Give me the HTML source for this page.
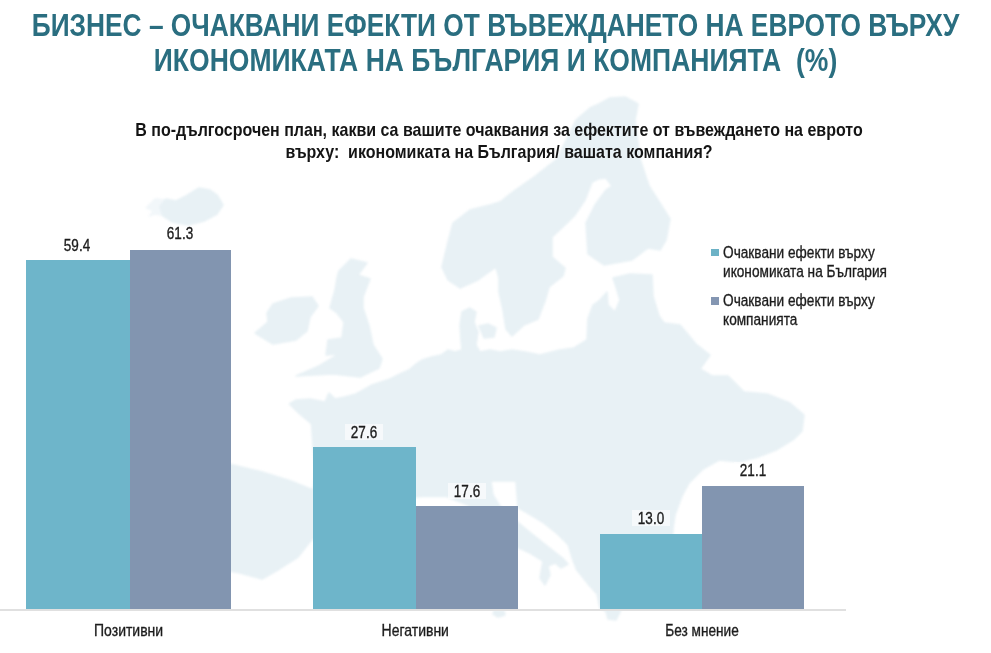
<!DOCTYPE html>
<html lang="bg">
<head>
<meta charset="utf-8">
<title>Бизнес – очаквани ефекти от въвеждането на еврото</title>
<style>
  html, body { margin: 0; padding: 0; width: 991px; height: 653px; overflow: hidden; background: #ffffff; }
  #stage {
    width: 991px; height: 653px; overflow: hidden; position: relative;
    background: #ffffff;
    font-family: "Liberation Sans", sans-serif;
    color: #1a1a1a;
  }
  .abs { position: absolute; white-space: nowrap; }
  #map { position: absolute; left: 0; top: 0; width: 991px; height: 653px; filter: blur(1px); }
  .title {
    left: -300px; width: 1591px; text-align: center;
    font-weight: bold; font-size: 30px; line-height: 36px;
    color: #2a6e80;
    transform: scale(0.877, 1.065); transform-origin: 50% 28.4px;
  }
  .sub {
    left: 0; width: 998px; text-align: center;
    font-weight: bold; font-size: 16px; line-height: 22px; color: #141414;
    white-space: pre;
    transform: scale(1, 1.12); transform-origin: 50% 16.5px;
  }
  .bar { position: absolute; }
  .teal { background: #6eb5ca; }
  .slate { background: #8295b0; }
  .vbox { position: absolute; width: 38px; height: 16px; background: #ffffff; opacity: 0.6; }
  .val {
    font-size: 14px; line-height: 16px; width: 60px; text-align: center; color: #1c1c1c; -webkit-text-stroke: 0.3px #1c1c1c;
    transform: scale(0.965, 1.17); transform-origin: 50% 12.85px;
  }
  .cat {
    font-size: 14px; line-height: 16px; width: 120px; text-align: center; color: #1c1c1c; -webkit-text-stroke: 0.3px #1c1c1c;
    transform: scale(1.0, 1.15); transform-origin: 50% 12.85px;
  }
  .leg {
    font-size: 14px; line-height: 19px; color: #1c1c1c; -webkit-text-stroke: 0.3px #1c1c1c;
    transform: scale(0.976, 1.12); transform-origin: 0 14.35px;
  }
  .sw { position: absolute; width: 7.7px; height: 7.5px; }
  #axis { position: absolute; left: 0; top: 609px; width: 846px; height: 2px; background: #e0e0e0; }
</style>
</head>
<body>
<div id="stage">

<svg id="map" viewBox="0 0 991 653">
  <g fill="#e8f1f5" stroke="#e8f1f5" stroke-width="1.5" stroke-linejoin="round">
    <!-- Iceland -->
    <path d="M160,207 L166,199 L176,201 L186,196 L199,188 L210,190 L217,195 L223,205 L217,214 L204,221 L188,225 L172,222 L163,216 Z"/>
    <path opacity="0.55" stroke="none" d="M145,208 L150,203 L155,198 L163,199 L166,199 L160,207 L163,216 L155,215 L148,217 L152,211 Z"/>
    <!-- Sicily sliver -->
    <path d="M494,611 L504,611 L505,615 L498,617 L493,614 Z"/>
    <!-- Ireland -->
    <path d="M273,304 L291,298 L312,297 L318,306 L310,317 L307,331 L296,340 L273,344 L255,333 L268,322 L267,313 Z"/>
    <!-- Great Britain -->
    <path d="M339,271 L351,259 L367,263 L358,275 L370,279 L363,297 L363,308 L369,326 L373,345 L382,359 L379,368 L360,377 L333,374 L296,376 L319,366 L339,354 L326,355 L328,340 L342,338 L344,322 L337,313 L330,308 L335,290 L337,278 Z"/>
    <!-- Scandinavia + Finland -->
    <path d="M447,246 L453,223 L470,210 L490,205 L500,202 L514,191 L534,177 L557,159 L576,120 L590,108 L599,104 L610,98 L625,97 L638,104 L635,120 L640,159 L649,186 L658,200 L670,219 L666,240 L660,250 L648,248 L632,260 L604,265 L588,254 L586,223 L595,205 L606,190 L612,186 L606,178 L598,179 L592,182 L585,200 L575,215 L565,225 L552,237 L552,257 L565,268 L563,276 L549,287 L545,301 L538,319 L524,325 L512,336 L506,329 L503,310 L499,292 L499,278 L496,267 L478,280 L460,288 L448,280 L442,267 Z"/>
    <!-- Danish islands -->
    <path d="M479,326 L488,324 L496,328 L494,337 L484,338 Z"/>
    <!-- Mainland Europe -->
    <path d="M289.5,404 L296,400 L310,399 L325,402 L329,393 L335,399 L345,397 L356,394 L372,385 L390,379 L400,374 L409,370 L416,364 L422,360 L432,357 L441,355 L448,350 L455,352 L462,350 L461,340 L460,325 L462,312 L470,308 L476,312 L474,322 L478,332 L476,345 L480,352 L490,350 L500,352 L512,350 L525,352 L540,355 L560,350 L574,348 L587,340 L588,319 L593,305 L600,300 L607,292 L608,305 L615,312 L620,300 L617,290 L613,278 L630,274 L652,275 L653,296 L659,316 L664,323 L680,325 L696,344 L710,355 L700,369 L712,376 L728,376 L744,392 L767,394 L790,403 L804,415 L802,431 L794,439 L776,450 L758,457 L739,462 L719,460 L703,469 L689,483 L682,496 L675,515 L673,529 L672,545 L668,560 L650,580 L625,585 L620,612 L616,620 L608,619 L606,611 L600,608 L597,594 L587.5,583.4 L576.5,569.6 L572.3,558.6 L568.2,544.8 L557.2,533.7 L543.4,522.7 L529.6,514.4 L518,507.5 L516,481 L491,481 L493,495 L500,506 L518,522.7 L532,534 L549,547.5 L563,558.6 L568,564 L561,568 L555,563 L548,566 L550,575 L545,585 L540,578 L543,561 L530,553 L518,547.5 L505,540 L490,528 L478,515 L468,505 L455,500 L447,496.5 L421,496.5 L405,498 L392,502 L380,512 L378,525 L365,540 L340,545 L313,538 L298,557 L276,571 L262,579 L240,573 L225,570 L225,463 L262,472 L291,481 L313,490 L316,470 L313,446 L311.5,424 L298.6,413 Z"/>
  </g>
</svg>

<div class="abs title" style="top:8.4px;">БИЗНЕС – ОЧАКВАНИ ЕФЕКТИ ОТ ВЪВЕЖДАНЕТО НА ЕВРОТО ВЪРХУ</div>
<div class="abs title" style="top:42.6px; white-space:pre; transform:scale(0.884,1.065);">ИКОНОМИКАТА НА БЪЛГАРИЯ И КОМПАНИЯТА  (%)</div>

<div class="abs sub" style="top:119.8px;">В по-дългосрочен план, какви са вашите очаквания за ефектите от въвеждането на еврото</div>
<div class="abs sub" style="top:142.1px;">върху:  икономиката на България/ вашата компания?</div>

<!-- bars -->
<div class="bar teal" style="left:26.2px; top:260.2px; width:103.4px; height:349.0px;"></div>
<div class="bar slate" style="left:129.5px; top:250.0px; width:101.5px; height:359.2px;"></div>
<div class="bar teal" style="left:312.7px; top:447.4px; width:102.9px; height:161.8px;"></div>
<div class="bar slate" style="left:415.5px; top:506.2px; width:102.5px; height:103.0px;"></div>
<div class="bar teal" style="left:599.5px; top:534.0px; width:102.8px; height:75.2px;"></div>
<div class="bar slate" style="left:702.2px; top:486.3px; width:102.0px; height:122.9px;"></div>
<div id="axis"></div>

<!-- values -->
<div class="abs val" style="left:47.25px; top:238.05px;">59.4</div>
<div class="abs val" style="left:150.2px; top:226.15px;">61.3</div>
<div class="vbox" style="left:345.0px; top:423.65px;"></div>
<div class="abs val" style="left:334.0px; top:425.1px;">27.6</div>
<div class="vbox" style="left:448.05px; top:482.7px;"></div>
<div class="abs val" style="left:437.05px; top:484.15px;">17.6</div>
<div class="vbox" style="left:632.0px; top:509.7px;"></div>
<div class="abs val" style="left:621.0px; top:511.15px;">13.0</div>
<div class="vbox" style="left:733.5px; top:461.7px;"></div>
<div class="abs val" style="left:722.5px; top:463.15px;">21.1</div>

<!-- categories -->
<div class="abs cat" style="left:68.6px; top:622.75px;">Позитивни</div>
<div class="abs cat" style="left:355.25px; top:622.75px;">Негативни</div>
<div class="abs cat" style="left:641.85px; top:622.8px; transform:scale(0.975,1.15);">Без мнение</div>

<!-- legend -->
<div class="sw" style="left:710.9px; top:248.6px; background:#6cb2c6;"></div>
<div class="sw" style="left:710.9px; top:297.1px; background:#8496b2;"></div>
<div class="abs leg" style="left:723.2px; top:243.95px;">Очаквани ефекти върху</div>
<div class="abs leg" style="left:723.2px; top:263.15px;">икономиката на България</div>
<div class="abs leg" style="left:723.2px; top:291.65px;">Очаквани ефекти върху</div>
<div class="abs leg" style="left:723.2px; top:310.75px;">компанията</div>

</div>
</body>
</html>
